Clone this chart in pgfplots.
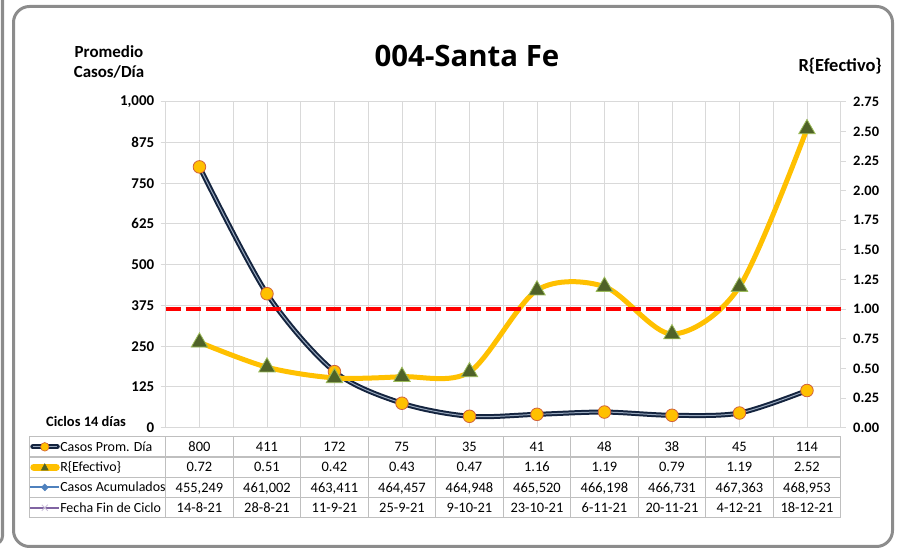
\documentclass[border=0pt]{standalone}
\usepackage{fontspec}
\setmainfont{Carlito}
\newfontfamily\titlefont{Open Sans}
\usepackage{pgfplots}
\pgfplotsset{compat=1.18}

\definecolor{navy}{HTML}{14243F}
\definecolor{navylight}{HTML}{9AAABF}
\definecolor{gold}{HTML}{FFC000}
\definecolor{mkborder}{HTML}{D0603A}
\definecolor{olive}{HTML}{4F6228}
\definecolor{olivelight}{HTML}{9BBB59}
\definecolor{gridgray}{HTML}{D9D9D9}
\definecolor{tablegray}{HTML}{BFBFBF}
\definecolor{framegray}{HTML}{8C8C8C}
\definecolor{accblue}{HTML}{4F81BD}
\definecolor{fechapurple}{HTML}{8064A2}

\pgfplotstableread{
x casos r
0 800 0.72
1 411 0.51
2 172 0.42
3 75 0.43
4 35 0.47
5 41 1.16
6 48 1.19
7 38 0.79
8 45 1.19
9 114 2.52
}\datatab

\newcommand{\tabfont}{\fontsize{14.5}{15}\selectfont}
\newcommand{\legfont}{\fontsize{14}{15}\selectfont}

\begin{document}
\begin{tikzpicture}[x=1bp,y=1bp]
% frame
\draw[framegray, line width=3bp, rounded corners=16bp] (13.5,3.5) rectangle (892.5,543.5);

\begin{axis}[
  at={(165.7bp,122.3bp)}, anchor=south west,
  scale only axis, width=675bp, height=326bp,
  xmin=-0.5, xmax=9.5, ymin=0, ymax=1000,
  axis x line*=bottom, axis y line*=left,
  axis line style={draw=gridgray, line width=0.9bp},
  xtick={-0.5,0,0.5,1,1.5,2,2.5,3,3.5,4,4.5,5,5.5,6,6.5,7,7.5,8,8.5,9,9.5},
  xticklabels={},
  xtick style={draw=none},
  xmajorgrids, ymajorgrids,
  grid style={draw=gridgray, line width=0.9bp},
  ytick={0,125,250,375,500,625,750,875,1000},
  ytick style={draw=gridgray, line width=0.9bp},
  tick align=outside, major tick length=5bp,
  scaled y ticks=false,
  /pgf/number format/assume math mode=true,
  yticklabel style={font=\bfseries\fontsize{15}{15}\selectfont, /pgf/number format/1000 sep={,}, xshift=-3bp},
  clip=false,
  legend style={
    at={(axis description cs:-0.2021,-0.0276)}, anchor=north west,
    draw=none, fill=none, inner sep=0pt, outer sep=0pt,
    row sep=0pt, column sep=0pt,
    font=\legfont,
    nodes={inner sep=0pt, text height=14.6bp, text depth=5.7bp},
  },
  legend cell align=left,
]
\addlegendimage{legend image code/.code={
  \draw[navy, line width=5bp, line cap=round] (2.5bp,0bp) -- (27bp,0bp);
  \draw[navylight, line width=1bp] (2.5bp,0bp) -- (27bp,0bp);
  \fill[gold, draw=mkborder, line width=0.6bp] (14.5bp,0bp) circle (4.3bp);
}}
\addlegendentry{Casos Prom. Día}
\addlegendimage{legend image code/.code={
  \draw[gold, line width=7bp, line cap=round] (3.5bp,0bp) -- (26bp,0bp);
  \fill[olive] (11bp,-3bp) -- (18bp,-3bp) -- (14.5bp,3.5bp) -- cycle;
}}
\addlegendentry{R\{Efectivo\}}
\addlegendimage{legend image code/.code={
  \draw[accblue, line width=2bp] (0bp,0bp) -- (29bp,0bp);
  \fill[accblue] (14.5bp,-3.5bp) -- (18bp,0bp) -- (14.5bp,3.5bp) -- (11bp,0bp) -- cycle;
}}
\addlegendentry{Casos Acumulados}
\addlegendimage{legend image code/.code={
  \draw[fechapurple, line width=2bp] (0bp,0bp) -- (29bp,0bp);
  \draw[fechapurple!40, line width=0.8bp] (11.5bp,-3bp) -- (17.5bp,3bp) (11.5bp,3bp) -- (17.5bp,-3bp);
}}
\addlegendentry{Fecha Fin de Ciclo}

\addplot[navy, line width=5bp, smooth, forget plot] table[x=x, y=casos] {\datatab};
\addplot[navylight, line width=1bp, smooth, forget plot] table[x=x, y=casos] {\datatab};
\addplot[only marks, mark=*, mark size=6.3bp, mark options={fill=gold, draw=mkborder, line width=0.8bp}, forget plot] table[x=x, y=casos] {\datatab};
\end{axis}

\begin{axis}[
  at={(165.7bp,122.3bp)}, anchor=south west,
  scale only axis, width=675bp, height=326bp,
  xmin=-0.5, xmax=9.5, ymin=0, ymax=2.75,
  axis y line*=right, axis x line=none,
  axis line style={draw=gridgray, line width=0.9bp},
  ytick={0,0.25,0.5,0.75,1,1.25,1.5,1.75,2,2.25,2.5,2.75},
  ytick style={draw=gridgray, line width=0.9bp},
  tick align=outside, major tick length=5bp,
  /pgf/number format/assume math mode=true,
  yticklabel style={font=\bfseries\fontsize{14.5}{15}\selectfont, xshift=4bp, /pgf/number format/.cd, fixed, fixed zerofill, precision=2},
  clip=false,
]
\addplot[gold, line width=5bp, smooth] table[x=x, y=r] {\datatab};
\addplot[only marks, mark=triangle*, mark size=9.5bp, mark options={fill=olive, draw=olivelight, line width=0.8bp}] table[x=x, y=r] {\datatab};
\addplot[red, line width=4.5bp, dash pattern=on 15bp off 5bp] coordinates {(-0.5,1) (9.5,1)};
\end{axis}

% texts
\node[anchor=base, font=\titlefont\bfseries\fontsize{29.5}{30}\selectfont] at (467,483) {004-Santa Fe};
\node[anchor=base, font=\bfseries\fontsize{17}{17}\selectfont] at (109,492) {Promedio};
\node[anchor=base, font=\bfseries\fontsize{17}{17}\selectfont] at (109,472.5) {Casos/Día};
\node[anchor=base east, font=\bfseries\fontsize{18.5}{19}\selectfont, inner sep=0pt] at (882,478.5) {R\{Efectivo\}};
\node[anchor=base west, font=\bfseries\fontsize{14.5}{15}\selectfont, inner sep=0pt] at (46,123.5) {Ciclos 14 días};

% table grid
\foreach \yy in {113.3,93.0,72.7,52.4,32.1} {\draw[tablegray, line width=1.1bp] (29.3,\yy) -- (840.7,\yy);}
\draw[tablegray, line width=1.1bp] (29.3,113.3) -- (29.3,32.1);
\foreach \k in {0,...,10} {\draw[tablegray, line width=1.1bp] (165.7+67.5*\k,113.3) -- (165.7+67.5*\k,32.1);}

\foreach \v [count=\i from 0] in {800,411,172,75,35,41,48,38,45,114}
  {\node[anchor=base, font=\tabfont, inner sep=0pt] at (199.45+67.5*\i, 98.5) {\v};}
\foreach \v [count=\i from 0] in {0.72,0.51,0.42,0.43,0.47,1.16,1.19,0.79,1.19,2.52}
  {\node[anchor=base, font=\tabfont, inner sep=0pt] at (199.45+67.5*\i, 78.2) {\v};}
\foreach \v [count=\i from 0] in {{455,249},{461,002},{463,411},{464,457},{464,948},{465,520},{466,198},{466,731},{467,363},{468,953}}
  {\node[anchor=base, font=\tabfont, inner sep=0pt] at (199.45+67.5*\i, 57.9) {\v};}
\foreach \v [count=\i from 0] in {14-8-21,28-8-21,11-9-21,25-9-21,9-10-21,23-10-21,6-11-21,20-11-21,4-12-21,18-12-21}
  {\node[anchor=base, font=\tabfont, inner sep=0pt] at (199.45+67.5*\i, 37.6) {\v};}

\pgfresetboundingbox
\path[use as bounding box] (0,0) rectangle (899,550);
\draw[framegray, line width=3bp, rounded corners=8bp] (2.5,560) -- (2.5,6) -- (-12,6);
\end{tikzpicture}
\end{document}
